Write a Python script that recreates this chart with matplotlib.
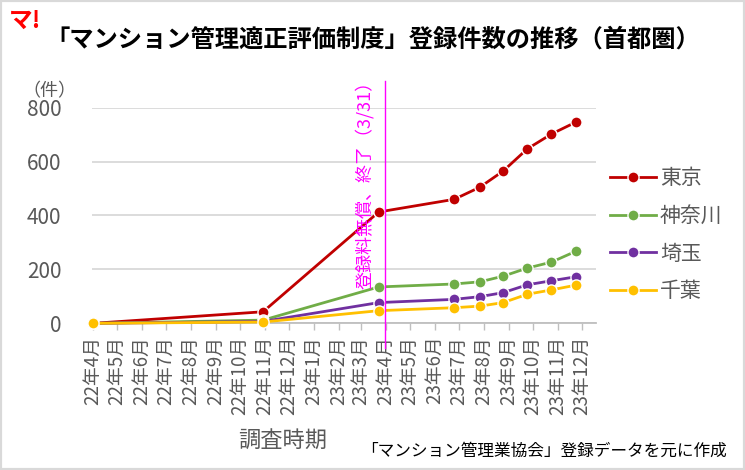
import matplotlib
matplotlib.use("Agg")
import matplotlib.pyplot as plt
import matplotlib.dates as mdates
from matplotlib.patches import Rectangle
import pandas as pd

plt.rcParams['font.family'] = ['Noto Sans CJK JP', 'DejaVu Sans']

# survey dates and registrations per prefecture
dates = pd.to_datetime(['2022-04-01', '2022-10-30', '2023-03-23', '2023-06-25',
                        '2023-07-27', '2023-08-25', '2023-09-24', '2023-10-24',
                        '2023-11-24'])
tokyo = [0, 43, 413, 460, 505, 565, 647, 702, 747]
kanagawa = [0, 12, 135, 146, 154, 175, 205, 227, 268]
saitama = [0, 7, 77, 89, 99, 114, 143, 158, 173]
chiba = [0, 5, 47, 58, 64, 77, 108, 124, 142]

names = ['東京', '神奈川', '埼玉', '千葉']
colors = ['#C00000', '#70AD47', '#7030A0', '#FFC000']

end_date = pd.Timestamp('2023-03-31')

fig = plt.figure(figsize=(7.45, 4.7), dpi=100)
ax = fig.add_axes([0.1235, 0.312, 0.677, 0.459])

for vals, name, c in zip([tokyo, kanagawa, saitama, chiba], names, colors):
    ax.plot(dates, vals, color=c, lw=2, marker='o', ms=8,
            mec='white', mew=1, label=name, clip_on=False, zorder=3)

ax.set_ylim(0, 800)
ax.set_yticks([0, 200, 400, 600, 800])
ax.set_xlim(pd.Timestamp('2022-03-31'), pd.Timestamp('2023-12-19'))
ax.xaxis.set_major_locator(mdates.MonthLocator())
ax.xaxis.set_major_formatter(
    plt.FuncFormatter(lambda v, p: '%d年%d月' % (mdates.num2date(v).year % 100,
                                              mdates.num2date(v).month)))
ax.grid(axis='y', color='#D9D9D9', lw=1.3)
ax.set_axisbelow(True)
for s in ['top', 'right', 'left']:
    ax.spines[s].set_visible(False)
ax.spines['bottom'].set_color('#BFBFBF')
ax.spines['bottom'].set_linewidth(1.3)
ax.tick_params(axis='y', length=0, labelsize=15, labelcolor='#595959', pad=22)
ax.tick_params(axis='x', length=5, color='#BFBFBF', width=1, labelsize=13.5,
               labelcolor='#595959', rotation=90, pad=4)

# free registration end marker
ax.plot([end_date, end_date], [-93, 898], color='#FF00FF', lw=1,
        clip_on=False, zorder=4)
ax.text(pd.Timestamp('2023-03-05'), 530, '登録料無償、終了（3/31）', rotation=90,
        ha='center', va='center', color='#FF00FF', fontsize=13)

leg = ax.legend(loc='upper left', bbox_to_anchor=(0.99, 0.81), frameon=False,
                fontsize=15, labelcolor='#595959', handlelength=2.2,
                handletextpad=0.2, labelspacing=0.75)

fig.text(0.03, 0.805, '（件）', fontsize=13, color='#595959', va='center')
fig.text(0.38, 0.063, '調査時期', fontsize=16, color='#595959', ha='center',
         va='center')
fig.text(0.975, 0.04, '「マンション管理業協会」登録データを元に作成', fontsize=12,
         color='black', ha='right', va='center')
fig.text(0.5, 0.915, '「マンション管理適正評価制度」登録件数の推移（首都圏）',
         fontsize=17.5, fontweight='bold', ha='center', va='center')
fig.text(0.012, 0.955, 'マ!', fontsize=17, fontweight='bold', color='#FF0000',
         va='center', style='italic')

fig.patches.append(Rectangle((0, 0), 1, 1, transform=fig.transFigure,
                             fill=False, edgecolor='#D9D9D9', lw=3))

fig.savefig('out.png', dpi=100)
